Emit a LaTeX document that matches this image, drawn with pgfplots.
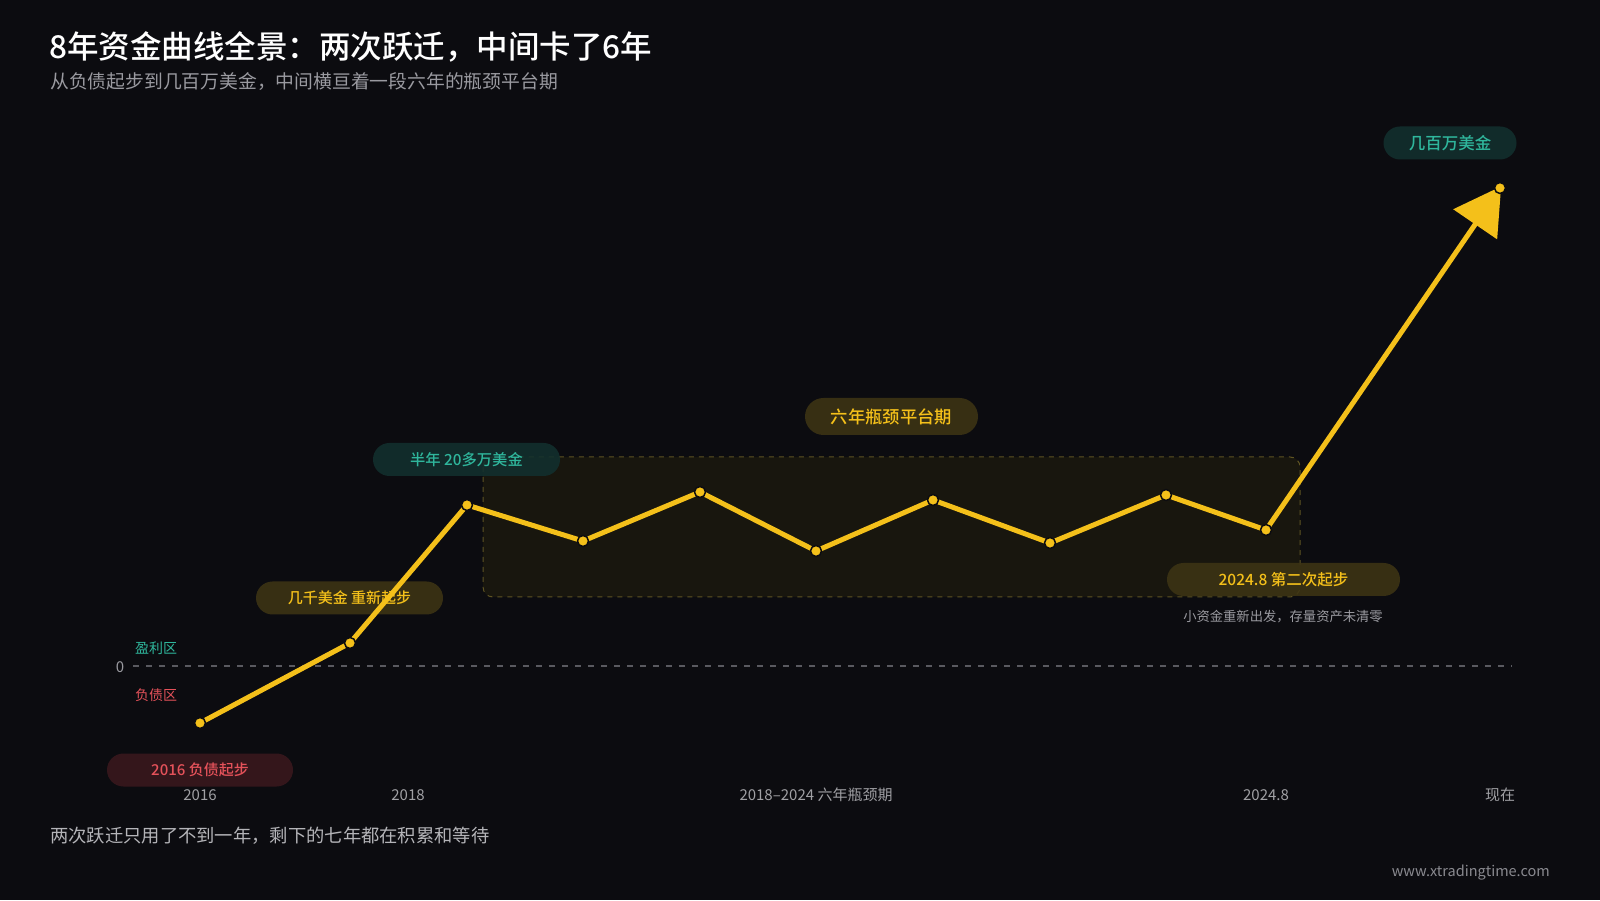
\documentclass[border=0pt]{standalone}
\usepackage{pgfplots}
\pgfplotsset{compat=1.18}
\usepackage{fontspec}
\setmainfont{Noto Sans CJK SC}[BoldFont={Noto Sans CJK SC Medium}]
\usetikzlibrary{arrows.meta}
\definecolor{bg}{HTML}{0C0C10}
\definecolor{gold}{HTML}{F4C01A}
\definecolor{tealtxt}{HTML}{2FB69C}
\definecolor{tealbg}{HTML}{12302E}
\definecolor{goldbg}{HTML}{3D3414}
\definecolor{redtxt}{HTML}{E5525A}
\definecolor{redbg}{HTML}{3A181D}
\definecolor{rectfill}{HTML}{18160E}
\definecolor{rectline}{HTML}{5E5322}
\definecolor{subgray}{HTML}{9A9AA0}
\definecolor{tickgray}{HTML}{A0A0A4}
\definecolor{footgray}{HTML}{B4B4B8}
\definecolor{urlgray}{HTML}{8A8A90}
\definecolor{zerogray}{HTML}{5A5A60}
\pgfplotstableread{
x y
200 -0.57
350 0.23
467 1.61
583 1.25
700 1.74
816 1.15
933 1.66
1050 1.23
1166 1.71
1266 1.36
}\mainline
\pgfplotstableread{
x y
1266 1.36
1500 4.78
}\jumpline
\tikzset{pill/.style={rounded corners=16.5pt, inner sep=0pt, minimum height=33pt, fill opacity=0.88, text opacity=1}}
\newcommand{\pv}[1]{{(666-#1)/100}}
\begin{document}
\begin{tikzpicture}
\fill[bg] (0,0) rectangle (1600pt,900pt);
\begin{axis}[at={(0,0)}, anchor=south west, scale only axis, width=1600pt, height=900pt,
  xmin=0, xmax=1600, ymin=-2.34, ymax=6.66, hide axis, clip=false]
% plateau region
\draw[rectline, dash pattern=on 5pt off 5pt, line width=1pt, fill=rectfill, rounded corners=10pt]
  (axis cs:483,2.09) rectangle (axis cs:1300,0.69);
% zero line
\draw[zerogray, dash pattern=on 6pt off 7pt, line width=1.3pt] (axis cs:133,0) -- (axis cs:1512,0);
% pills
\node[pill, fill=tealbg, minimum width=133pt, text=tealtxt, font=\fontsize{16.5}{20}\selectfont\bfseries] at (axis cs:1450,\pv{143}) {几百万美金};
\node[pill, fill=goldbg, minimum width=173pt, minimum height=37pt, rounded corners=18.5pt, text=gold, font=\fontsize{17.3}{20}\selectfont\bfseries] at (axis cs:891.5,\pv{416.5}) {六年瓶颈平台期};
\node[pill, fill=tealbg, minimum width=187pt, text=tealtxt, font=\fontsize{15.3}{18}\selectfont\bfseries] at (axis cs:466.5,\pv{459.5}) {半年 20多万美金};
\node[pill, fill=goldbg, minimum width=187pt, text=gold, font=\fontsize{15}{18}\selectfont\bfseries] at (axis cs:349.5,\pv{598}) {几千美金 重新起步};
\node[pill, fill=redbg, minimum width=186pt, text=redtxt, font=\fontsize{15}{18}\selectfont\bfseries] at (axis cs:200,\pv{770}) {2016 负债起步};
\node[pill, fill=goldbg, minimum width=233pt, text=gold, font=\fontsize{15.5}{18}\selectfont\bfseries] at (axis cs:1283.5,\pv{579.5}) {2024.8 第二次起步};
% data
\addplot[gold, line width=5pt, -{Triangle[length=46pt,width=52pt]}, shorten >=-2pt] table[x=x,y=y] {\jumpline};
\addplot[gold, line width=5pt, line join=round, mark=*, mark size=5.5pt, mark options={fill=gold, draw=bg, line width=1.5pt}] table[x=x,y=y] {\mainline};
\addplot[only marks, mark=*, mark size=5.5pt, mark options={fill=gold, draw=bg, line width=1.5pt}] coordinates {(1500,4.78)};
\end{axis}
\begin{scope}[x=1pt, y=-1pt, yshift=900pt]
\node[anchor=west, inner sep=0pt, text=white, font=\fontsize{31.5}{36}\selectfont\bfseries] at (49,47) {8年资金曲线全景：两次跃迁，中间卡了6年};
\node[anchor=west, inner sep=0pt, text=subgray, font=\fontsize{18.8}{22}\selectfont] at (50,82) {从负债起步到几百万美金，中间横亘着一段六年的瓶颈平台期};
\node[anchor=west, inner sep=0pt, text=footgray, font=\fontsize{18.3}{22}\selectfont] at (50,836) {两次跃迁只用了不到一年，剩下的七年都在积累和等待};
\node[anchor=east, inner sep=0pt, text=urlgray, font=\fontsize{14.5}{18}\selectfont] at (1550,873) {www.xtradingtime.com};
\node[inner sep=0pt, text=tealtxt, font=\fontsize{14}{17}\selectfont] at (156,648) {盈利区};
\node[inner sep=0pt, text=redtxt, font=\fontsize{14}{17}\selectfont] at (156,695) {负债区};
\node[inner sep=0pt, text=subgray, font=\fontsize{15}{18}\selectfont] at (120,667) {0};
\node[inner sep=0pt, text=subgray, font=\fontsize{13.3}{16}\selectfont] at (1283,617) {小资金重新出发，存量资产未清零};
\foreach \px/\lab in {200/2016, 408/2018, 816/{2018–2024 六年瓶颈期}, 1266/2024.8, 1500/现在}
  \node[inner sep=0pt, text=tickgray, font=\fontsize{15}{18}\selectfont] at (\px,795) {\lab};
\end{scope}
\end{tikzpicture}
\end{document}
